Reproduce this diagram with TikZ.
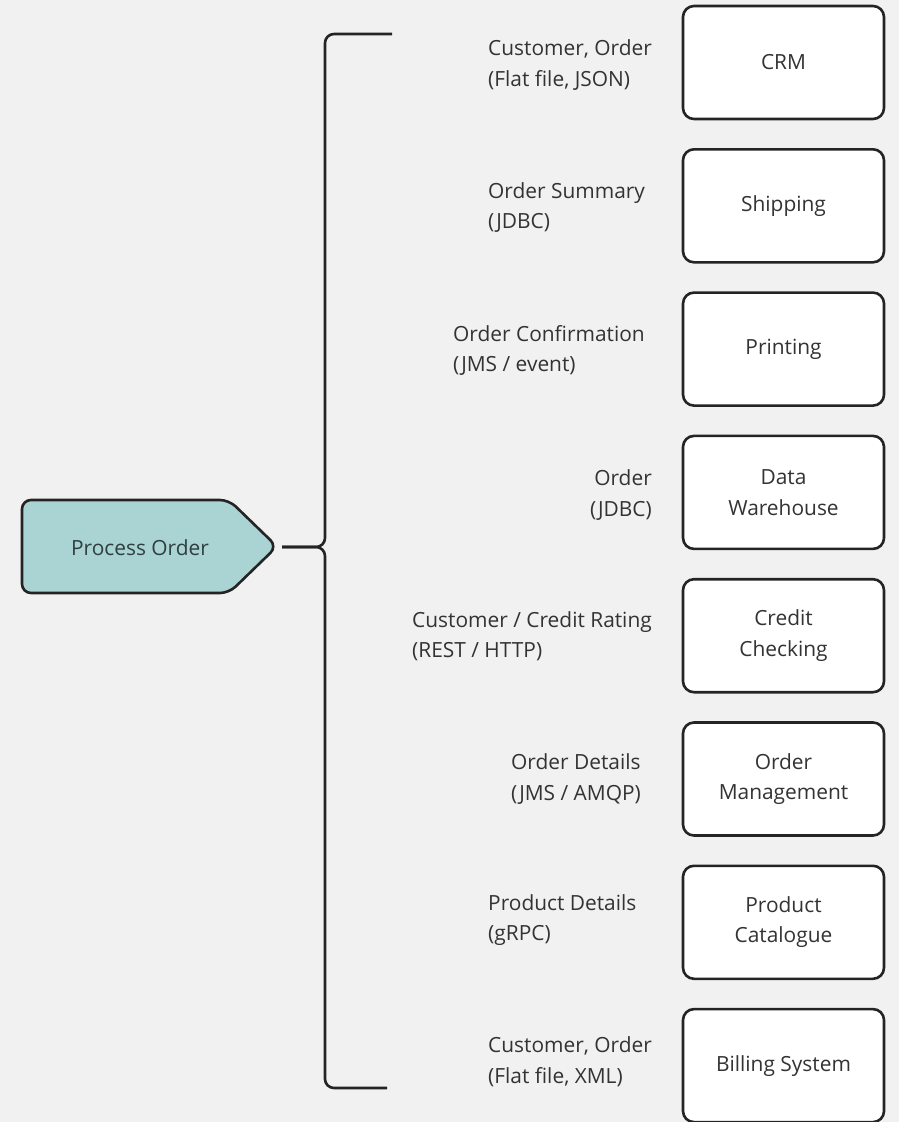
\documentclass[tikz,border=0pt]{standalone}
\usepackage{fontspec}
\setmainfont{Open Sans}
\definecolor{pagebg}{HTML}{F1F1F1}
\definecolor{inkline}{HTML}{242424}
\definecolor{inktext}{HTML}{333333}
\definecolor{tealfill}{HTML}{A9D4D3}
\definecolor{tealtext}{HTML}{2F3F3F}
\begin{document}
\begin{tikzpicture}[x=1pt,y=-1pt,
  txt/.style={font=\fontsize{20.9}{30.5}\selectfont, text=inktext, inner sep=0pt},
  sysbox/.style={draw=inkline, line width=2.6pt, fill=white, rounded corners=11pt,
    minimum width=201pt, minimum height=113pt, align=center, txt},
  flowlabel/.style={txt, align=left, anchor=west},
  link/.style={draw=inkline, line width=2.6pt, rounded corners=9pt}]
  % canvas
  \fill[pagebg] (0,0) rectangle (899,1122);
  \useasboundingbox (0,0) rectangle (899,1122);

  % process shape
  \draw[draw=inkline, line width=2.6pt, fill=tealfill, rounded corners=9pt]
    (22,500) -- (229,500) -- (277,546.5) -- (229,593) -- (22,593) -- cycle;
  \node[txt, text=tealtext] (po) at (140,548) {Process Order};
  \coordinate (poTip) at (282,547);

  % target systems
  \node[sysbox] (crm)  at (783.5,62.5)  {CRM};
  \node[sysbox] (ship) at (783.5,205.8) {Shipping};
  \node[sysbox] (prt)  at (783.5,349.1) {Printing};
  \node[sysbox] (dw)   at (783.5,492.4) {Data\\Warehouse};
  \node[sysbox] (cc)   at (783.5,635.7) {Credit\\Checking};
  \node[sysbox] (om)   at (783.5,779)   {Order\\Management};
  \node[sysbox] (pc)   at (783.5,922.3) {Product\\Catalogue};
  \node[sysbox] (bill) at (783.5,1065.6) {Billing System};

  % brace from the process to all systems
  \coordinate (bTop) at (392,34);
  \coordinate (bBot) at (387,1088);
  \draw[link] (bTop) -- (325,34) -- (325,547) -- (poTip);
  \draw[link] (bBot) -- (325,1088) -- (325,547) -- (poTip);

  % data exchanged with each system
  \node[flowlabel] (l1) at (488,65)    {Customer, Order\\(Flat file, JSON)};
  \node[flowlabel] (l2) at (488,207.5) {Order Summary\\(JDBC)};
  \node[flowlabel] (l3) at (453,350.5) {Order Confirmation\\(JMS / event)};
  \node[txt, align=right, anchor=east] (l4) at (652,495) {Order\\(JDBC)};
  \node[flowlabel] (l5) at (412,636)   {Customer / Credit Rating\\(REST / HTTP)};
  \node[flowlabel] (l6) at (511,779)   {Order Details\\(JMS / AMQP)};
  \node[flowlabel] (l7) at (488,920)   {Product Details\\(gRPC)};
  \node[flowlabel] (l8) at (488,1061.5){Customer, Order\\(Flat file, XML)};
\end{tikzpicture}
\end{document}
